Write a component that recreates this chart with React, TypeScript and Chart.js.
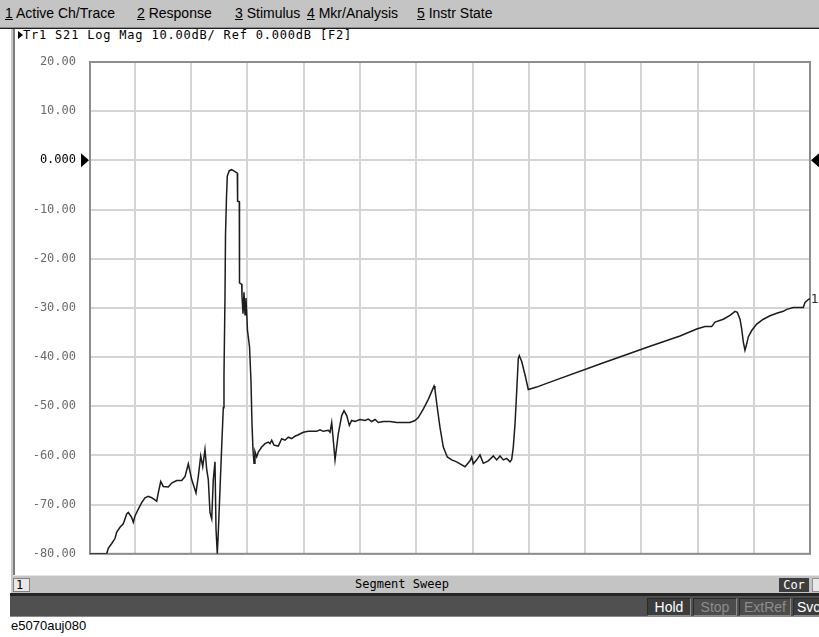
import React, { useEffect, useRef } from "react";
import { Chart, registerables } from "chart.js";

Chart.register(...registerables);

// ---- data (x in screen divisions of the segment sweep, y in dB) ----
const traceX = [0, 0.297, 0.325, 0.386, 0.444, 0.475, 0.533, 0.592, 0.652, 0.681, 0.741, 0.77, 0.8, 0.859, 0.919, 0.978, 1.036, 1.097, 1.186, 1.214, 1.257, 1.303, 1.392, 1.452, 1.541, 1.63, 1.689, 1.748, 1.808, 1.884, 1.925, 1.968, 2.004, 2.044, 2.075, 2.103, 2.133, 2.164, 2.192, 2.222, 2.24, 2.263, 2.281, 2.311, 2.341, 2.37, 2.382, 2.4, 2.409, 2.427, 2.441, 2.476, 2.519, 2.578, 2.619, 2.624, 2.654, 2.658, 2.697, 2.702, 2.72, 2.738, 2.756, 2.773, 2.8, 2.836, 2.862, 2.88, 2.898, 2.916, 2.933, 2.964, 2.992, 3.052, 3.111, 3.17, 3.2, 3.23, 3.271, 3.348, 3.408, 3.467, 3.525, 3.586, 3.644, 3.703, 3.792, 3.881, 4.03, 4.089, 4.148, 4.236, 4.267, 4.297, 4.315, 4.356, 4.414, 4.475, 4.516, 4.564, 4.61, 4.652, 4.711, 4.8, 4.889, 4.948, 5.008, 5.067, 5.125, 5.214, 5.333, 5.452, 5.57, 5.689, 5.778, 5.836, 5.925, 6.014, 6.116, 6.133, 6.174, 6.222, 6.281, 6.352, 6.43, 6.519, 6.578, 6.667, 6.756, 6.786, 6.814, 6.875, 6.933, 6.992, 7.081, 7.17, 7.23, 7.289, 7.348, 7.408, 7.467, 7.497, 7.525, 7.556, 7.586, 7.614, 7.632, 7.675, 7.733, 7.792, 7.941, 8.059, 8.178, 9.067, 9.956, 10.489, 10.786, 10.933, 11.052, 11.111, 11.259, 11.378, 11.467, 11.508, 11.556, 11.586, 11.614, 11.644, 11.675, 11.703, 11.764, 11.852, 11.97, 12.089, 12.208, 12.325, 12.386, 12.503, 12.681, 12.711, 12.77, 12.8];

const traceDb = [-80, -80, -78.9, -77.9, -76.9, -75.6, -74.6, -73.9, -71.9, -71.6, -72.6, -73.6, -72.3, -70.9, -69.6, -68.6, -68.3, -68.6, -69.3, -67.6, -65.3, -66.3, -66.4, -65.6, -65.1, -65.1, -64.3, -61.7, -64.9, -67.6, -64.3, -60.1, -62.3, -58.8, -62.9, -64.9, -71.6, -72.9, -64.9, -61.3, -74.9, -80, -75.6, -66.9, -58.3, -50.3, -43.6, -27.6, -15.2, -7.4, -3.2, -2.1, -1.9, -2.3, -2.6, -8.3, -8.4, -24.9, -25.2, -27.6, -31.2, -26.8, -31.4, -28, -34.6, -37.9, -44.9, -53.6, -58.9, -61.6, -59.2, -60.3, -59.3, -58.3, -57.6, -57.3, -57.6, -56.9, -57.9, -58.1, -56.6, -56.9, -56.3, -56.6, -56.1, -55.8, -55.3, -55.1, -55.1, -54.8, -55.1, -54.9, -55.3, -53.3, -55.6, -60.9, -55.6, -51.9, -50.9, -51.9, -53.9, -52.9, -53.1, -52.7, -52.9, -52.6, -53.1, -52.7, -53.3, -53.1, -53.1, -53.3, -53.3, -53.3, -52.9, -52.3, -50.6, -48.6, -45.9, -46.6, -50.3, -54.3, -58.3, -60.3, -60.9, -61.3, -61.7, -62.3, -61.1, -60.3, -61.7, -60.9, -59.9, -61.6, -61.1, -60.1, -60.9, -60.1, -60.9, -60.6, -61.3, -60.8, -58.3, -53.6, -46.9, -40.3, -39.7, -40.9, -43.6, -46.6, -46.1, -45.6, -45.1, -41.4, -37.8, -35.7, -34.3, -33.8, -33.8, -32.9, -32.3, -31.5, -30.7, -30.9, -32.3, -34.3, -36.9, -38.6, -37.3, -35.9, -34.6, -33.3, -32.3, -31.6, -31.1, -30.7, -30.3, -29.9, -29.9, -28.9, -28.3, -28.1];

const xGridLines = [0, 0.8, 1.8, 2.8, 3.8, 4.8, 5.8, 6.8, 7.8, 8.8, 9.8, 10.8, 11.8, 12.8];
const yMin = -80;
const yMax = 20;
const yStep = 10;
const refLevel = 0;
const markerLabel = "1";

const menuDigits = ["1", "2", "3", "4", "5"];
const menuLabels = ["Active Ch/Trace", "Response", "Stimulus", "Mkr/Analysis", "Instr State"];
const headerText = "Tr1 S21 Log Mag 10.00dB/ Ref 0.000dB [F2]";
const sweepText = "Segment Sweep";
const channelText = "1";
const corText = "Cor";
const statusLabels = ["Hold", "Stop", "ExtRef", "Svc"];
const captionText = "e5070auj080";

const menuX = [5, 137, 235, 307, 417];
const statusX = [647, 693, 739, 793];
const statusW = [44, 44, 52, 30];
const statusActive = [true, false, false, true];

const MONO = '"DejaVu Sans Mono", monospace';
const SANS = '"Liberation Sans", Arial, sans-serif';

const overlayPlugin = {
  id: "overlay",
  beforeDatasetsDraw(chart: any) {
    const { ctx, chartArea: a } = chart;
    ctx.save();
    ctx.strokeStyle = "#8e8e8e";
    ctx.lineWidth = 2;
    ctx.strokeRect(a.left, a.top, a.right - a.left, a.bottom - a.top);
    ctx.restore();
  },
  afterDraw(chart: any) {
    const { ctx, chartArea: a, scales } = chart;
    const y0 = scales.y.getPixelForValue(refLevel);
    ctx.save();
    ctx.fillStyle = "#000";
    ctx.beginPath();
    ctx.moveTo(a.left - 9, y0 - 7);
    ctx.lineTo(a.left - 1, y0);
    ctx.lineTo(a.left - 9, y0 + 7);
    ctx.closePath();
    ctx.fill();
    ctx.beginPath();
    ctx.moveTo(a.right + 9, y0 - 7);
    ctx.lineTo(a.right + 1, y0);
    ctx.lineTo(a.right + 9, y0 + 7);
    ctx.closePath();
    ctx.fill();
    const last = traceDb[traceDb.length - 1];
    ctx.font = '12px "DejaVu Sans"';
    ctx.textBaseline = "middle";
    ctx.textAlign = "left";
    ctx.fillStyle = "#222";
    ctx.fillText(markerLabel, a.right + 1, scales.y.getPixelForValue(last) + 1);
    ctx.restore();
  },
};

export default function App() {
  const canvasRef = useRef<HTMLCanvasElement>(null);

  useEffect(() => {
    const canvas = canvasRef.current;
    if (!canvas) return;
    const chart = new Chart(canvas, {
      type: "line",
      data: {
        datasets: [
          {
            data: traceX.map((x, i) => ({ x, y: traceDb[i] })),
            borderColor: "#1c1c1c",
            borderWidth: 1.5,
            pointRadius: 0,
            tension: 0,
            fill: false,
          },
        ],
      },
      options: {
        animation: false,
        responsive: false,
        devicePixelRatio: 1,
        events: [],
        layout: { padding: { top: 22, right: 9, bottom: 13, left: 0 } },
        plugins: { legend: { display: false }, tooltip: { enabled: false }, title: { display: false } },
        scales: {
          x: {
            type: "linear",
            min: xGridLines[0],
            max: xGridLines[xGridLines.length - 1],
            afterBuildTicks: (s: any) => {
              s.ticks = xGridLines.map((v) => ({ value: v }));
            },
            afterFit: (s: any) => {
              s.height = 0;
            },
            ticks: { display: false },
            grid: { color: "#d4d4d4", lineWidth: 2, drawTicks: false },
            border: { display: false },
          },
          y: {
            type: "linear",
            min: yMin,
            max: yMax,
            afterFit: (s: any) => {
              s.width = 75;
            },
            ticks: {
              stepSize: yStep,
              padding: 14,
              color: (c: any) => (c.tick && c.tick.value === refLevel ? "#000" : "#6a6a6a"),
              font: { family: MONO, size: 12 },
              callback: (v: any) => (Number(v) === 0 ? "0.000" : Number(v).toFixed(2)),
            },
            grid: { color: "#d4d4d4", lineWidth: 2, drawTicks: false },
            border: { display: false },
          },
        },
      },
      plugins: [overlayPlugin],
    } as any);
    return () => chart.destroy();
  }, []);

  const abs = (o: React.CSSProperties): React.CSSProperties => ({ position: "absolute", ...o });

  return (
    <div style={abs({ left: 0, top: 0, width: 819, height: 637, background: "#fff", overflow: "hidden", fontFamily: SANS })}>
      {/* menu bar */}
      <div style={abs({ left: 0, top: 0, width: 819, height: 27, background: "#c4c4c4" })} />
      <div style={abs({ left: 0, top: 27, width: 819, height: 1, background: "#8a8a8a" })} />
      <div style={abs({ left: 0, top: 28, width: 819, height: 1, background: "#202020" })} />
      {menuLabels.map((m, i) => (
        <div key={i} style={abs({ left: menuX[i], top: 5, fontSize: 14, lineHeight: "17px", color: "#000", whiteSpace: "nowrap" })}>
          <span style={{ textDecoration: "underline" }}>{menuDigits[i]}</span>
          {" " + m}
        </div>
      ))}

      {/* window frame */}
      <div style={abs({ left: 11, top: 29, width: 2, height: 564, background: "#c8c8c8" })} />
      <div style={abs({ left: 13, top: 29, width: 2, height: 546, background: "#7c7c7c" })} />

      {/* header */}
      <div style={abs({ left: 18, top: 31, width: 0, height: 0, borderTop: "4px solid transparent", borderBottom: "4px solid transparent", borderLeft: "5px solid #000" })} />
      <div style={abs({ left: 23, top: 28, fontFamily: MONO, fontSize: 12, letterSpacing: "0.8px", lineHeight: "14px", color: "#000", whiteSpace: "pre" })}>
        {headerText}
      </div>

      {/* chart */}
      <canvas ref={canvasRef} width={804} height={535} style={abs({ left: 15, top: 40, width: 804, height: 535 })} />

      {/* bottom channel bar */}
      <div style={abs({ left: 13, top: 575, width: 806, height: 18, background: "#c4c4c4", borderTop: "1px solid #e4e4e4", boxSizing: "border-box" })} />
      <div style={abs({ left: 13, top: 578, width: 17, height: 14, background: "#e8e8e8", border: "1px solid #808080", boxSizing: "border-box", fontFamily: MONO, fontSize: 12, lineHeight: "12px", paddingLeft: 2, color: "#000" })}>
        {channelText}
      </div>
      <div style={abs({ left: 355, top: 577, fontFamily: MONO, fontSize: 12, lineHeight: "14px", color: "#000", whiteSpace: "pre" })}>
        {sweepText}
      </div>
      <div style={abs({ left: 779, top: 578, width: 30, height: 14, background: "#3e3e3e", color: "#fff", fontFamily: MONO, fontSize: 12, lineHeight: "14px", textAlign: "center" })}>
        {corText}
      </div>
      <div style={abs({ left: 812, top: 578, width: 9, height: 14, background: "#e8e8e8", border: "1px solid #909090", boxSizing: "border-box" })} />

      {/* status bar */}
      <div style={abs({ left: 10, top: 593, width: 809, height: 3, background: "#262626" })} />
      <div style={abs({ left: 10, top: 596, width: 809, height: 21, background: "#505050", borderBottom: "1px solid #8a8a8a", boxSizing: "border-box" })} />
      {statusLabels.map((s, i) => (
        <div
          key={s}
          style={abs({
            left: statusX[i],
            top: 598,
            width: statusW[i],
            height: 18,
            boxSizing: "border-box",
            borderTop: "1px solid #2a2a2a",
            borderLeft: "1px solid #2a2a2a",
            borderRight: "1px solid #8c8c8c",
            borderBottom: "1px solid #8c8c8c",
            background: statusActive[i] ? "#3c3c3c" : "#4c4c4c",
            color: statusActive[i] ? "#fff" : "#8c8c8c",
            fontSize: 14,
            lineHeight: "16px",
            textAlign: i === 3 ? "left" : "center",
            paddingLeft: i === 3 ? 3 : 0,
            whiteSpace: "nowrap",
            overflow: "hidden",
          })}
        >
          {s}
        </div>
      ))}

      {/* caption */}
      <div style={abs({ left: 11, top: 618, fontSize: 13, lineHeight: "15px", color: "#000" })}>{captionText}</div>
    </div>
  );
}
